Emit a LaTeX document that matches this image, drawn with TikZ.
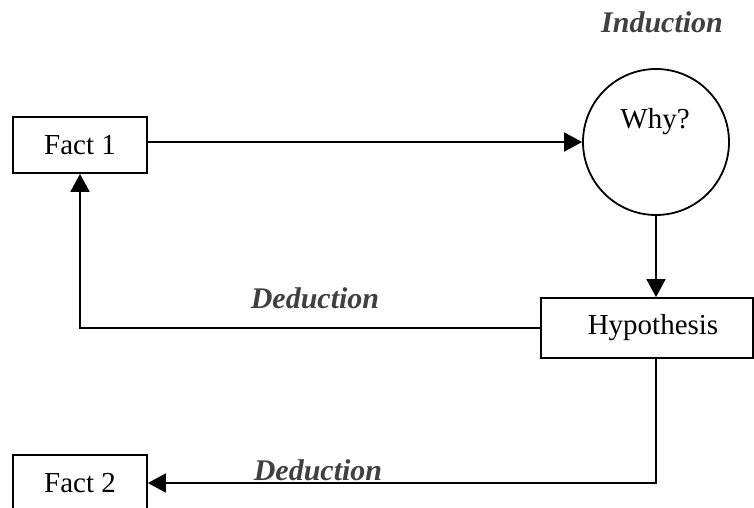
\documentclass[tikz,border=0pt]{standalone}
\usepackage{fontspec}
\setmainfont{Liberation Serif}
\usetikzlibrary{arrows.meta,calc}
\definecolor{lblgray}{HTML}{404040}
\begin{document}
\begin{tikzpicture}[x=1pt,y=-1pt,
  every node/.style={font=\fontsize{29}{32}\selectfont},
  box/.style={draw,line width=1.8pt,rectangle,inner sep=0pt},
  conn/.style={line width=1.8pt},
  arr/.style={conn,-{Triangle[length=18pt,width=19pt]}},
  lbl/.style={text=lblgray,font=\fontsize{30}{32}\selectfont\bfseries\itshape}]
\useasboundingbox (0,0) rectangle (754,507);
\node[box,minimum width=134pt,minimum height=56pt] (fact1) at (80,145) {Fact 1};
\node[draw,line width=1.8pt,circle,minimum size=146pt,inner sep=0pt] (why) at (656,142) {};
\node (whytext) at (655,122) {Why?};
\node[box,minimum width=212pt,minimum height=60pt] (hyp) at (647,328) {\hspace*{12pt}Hypothesis};
\node[box,minimum width=134pt,minimum height=56pt] (fact2) at (80,483) {Fact 2};
\node[lbl] (ind) at (662,22) {Induction};
\node[lbl] (ded1) at (315,298) {Deduction};
\node[lbl] (ded2) at (318,470) {Deduction};
\draw[arr] (fact1.east |- why.west) -- (why.west);
\draw[arr] (why.south) -- (why.south |- hyp.north);
\draw[arr] (hyp.west) -| (fact1.south);
\draw[arr] (hyp.south -| why.south) |- (fact2.east);
\end{tikzpicture}
\end{document}
